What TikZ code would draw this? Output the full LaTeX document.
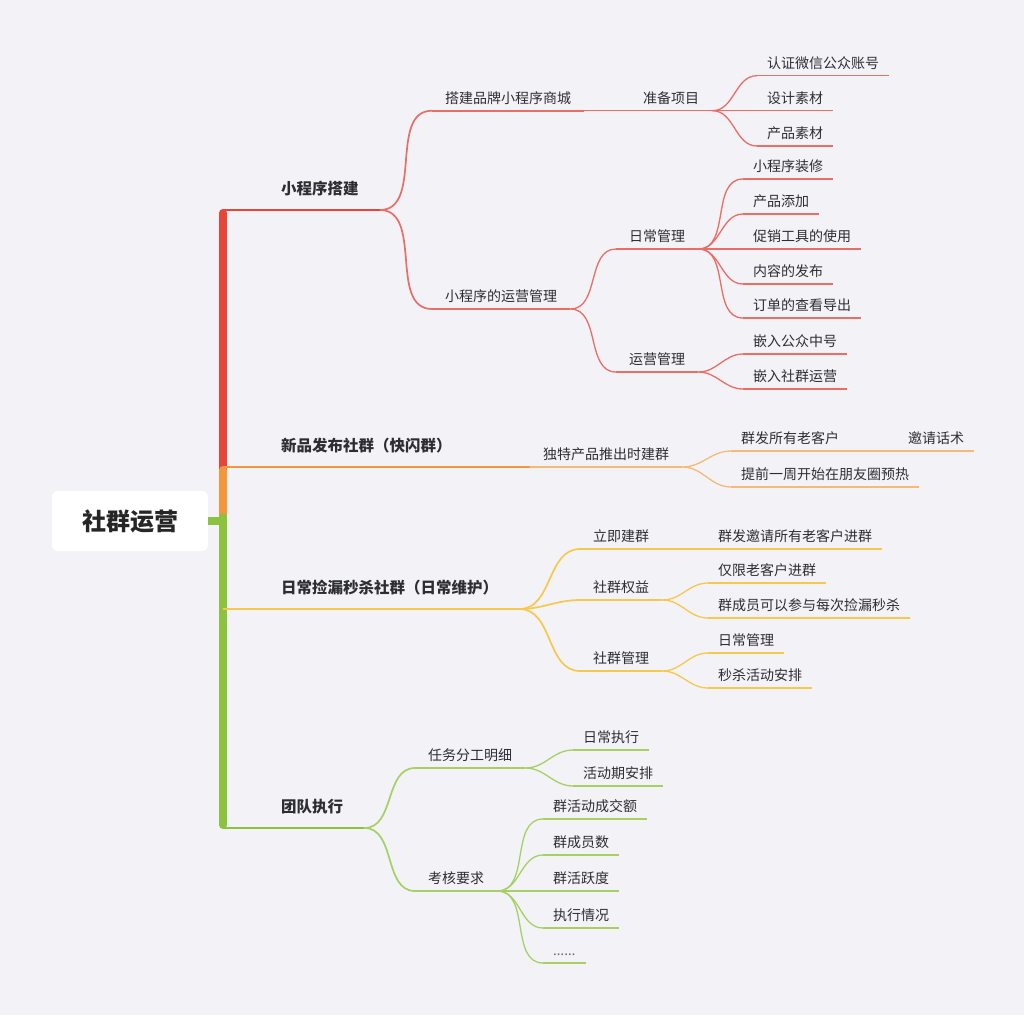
\documentclass[tikz,border=0pt]{standalone}
\usepackage{fontspec}
\newfontfamily\cjk{Noto Sans CJK SC}
\newfontfamily\latin{Noto Sans}
\usetikzlibrary{positioning}
\definecolor{bgcol}{RGB}{243,243,247}
\definecolor{txtcol}{RGB}{45,45,52}
\definecolor{redtrunk}{RGB}{232,68,56}
\definecolor{redline}{RGB}{232,110,102}
\definecolor{orangetrunk}{RGB}{246,150,58}
\definecolor{orangeline}{RGB}{246,186,116}
\definecolor{yellowline}{RGB}{246,200,76}
\definecolor{greentrunk}{RGB}{140,195,62}
\definecolor{greenline}{RGB}{166,208,100}

\begin{document}
\begin{tikzpicture}[x=1pt,y=-1pt]
	\tikzset{
		leaf/.style={anchor=south west, inner xsep=10pt, inner ysep=5.5pt,
			text height=12pt, text depth=2pt, text=txtcol,
			font=\cjk\fontsize{14pt}{16pt}\selectfont},
		sub/.style={leaf, inner xsep=13pt},
		main/.style={leaf, inner xsep=21pt, inner ysep=13pt, text height=13pt,
			font=\cjk\bfseries\fontsize{15.5pt}{18pt}\selectfont},
		root/.style={fill=white, rounded corners=6pt, minimum width=156pt,
			minimum height=60pt, text=black!85,
			font=\cjk\bfseries\fontsize{24pt}{28pt}\selectfont},
		trunk/.style={line width=8pt},
		lineA/.style={line width=2.6pt},
		lineB/.style={line width=1.7pt},
		lineC/.style={line width=1.3pt}
	}
	
	% Page and background
	\fill[bgcol] (0,0) rectangle (1024,1015);
	\useasboundingbox (0,0) rectangle (1024,1015);
	
	% Central topic
	\node[root] (root) at (130,521) {社群运营};
	\coordinate (hub) at (223,521);
	
	% Main topics
	\node[main] (b1) at (260,210) {小程序搭建};
	\node[main] (b2) at (260,467) {新品发布社群（快闪群）};
	\node[main] (b3) at (260,609) {日常捡漏秒杀社群（日常维护）};
	\node[main] (b4) at (260,828) {团队执行};
	
	% Red branch
	\node[sub] (c1) at (432,110.7) {搭建品牌小程序商城};
	\node[sub] (c2) at (432,309) {小程序的运营管理};
	\node[sub] (d1) at (630,110.7) {准备项目};
	\node[sub] (d2) at (616,249) {日常管理};
	\node[sub] (d3) at (616,372) {运营管理};
	\node[leaf] (e1) at (757,75.7) {认证微信公众账号};
	\node[leaf] (e2) at (757,110.7) {设计素材};
	\node[leaf] (e3) at (757,146) {产品素材};
	\node[leaf] (e4) at (743,179) {小程序装修};
	\node[leaf] (e5) at (743,214) {产品添加};
	\node[leaf] (e6) at (743,249) {促销工具的使用};
	\node[leaf] (e7) at (743,284) {内容的发布};
	\node[leaf] (e8) at (743,318) {订单的查看导出};
	\node[leaf] (e9) at (743,354) {嵌入公众中号};
	\node[leaf] (e10) at (743,389) {嵌入社群运营};
	
	% Orange branch
	\node[sub] (c3) at (530,467) {独特产品推出时建群};
	\node[leaf] (f1) at (731,451) {群发所有老客户};
	\node[leaf] (f2) at (898,451) {邀请话术};
	\node[leaf] (f3) at (731,487) {提前一周开始在朋友圈预热};
	
	% Yellow branch
	\node[sub] (c4) at (580,549) {立即建群};
	\node[sub] (c5) at (580,600) {社群权益};
	\node[sub] (c6) at (580,671) {社群管理};
	\node[leaf] (g1) at (708,549) {群发邀请所有老客户进群};
	\node[leaf] (g2) at (708,583) {仅限老客户进群};
	\node[leaf] (g3) at (708,618) {群成员可以参与每次捡漏秒杀};
	\node[leaf] (g4) at (708,653) {日常管理};
	\node[leaf] (g5) at (708,688) {秒杀活动安排};
	
	% Green branch
	\node[sub] (c7) at (415,768) {任务分工明细};
	\node[sub] (c8) at (415,891) {考核要求};
	\node[leaf] (h1) at (573,750) {日常执行};
	\node[leaf] (h2) at (573,786) {活动期安排};
	\node[leaf] (h3) at (543,819) {群活动成交额};
	\node[leaf] (h4) at (543,855) {群成员数};
	\node[leaf] (h5) at (543,891) {群活跃度};
	\node[leaf] (h6) at (543,928) {执行情况};
	\node[leaf, text=txtcol!70] (h7) at (543,963) {\latin ……};
	
	% Trunk from the central topic
	\draw[trunk, redtrunk, line cap=round] (hub) -- ([yshift=-3pt]hub |- b1.south west);
	\draw[trunk, orangetrunk, line cap=round] (hub) -- ([yshift=-3pt]hub |- b2.south west);
	\draw[trunk, greentrunk] (root.east) -- (hub);
	\draw[trunk, greentrunk, line cap=round] ([yshift=4pt]hub) -- ([yshift=3pt]hub |- b4.south west);
	
	% Main topic lines
	\foreach \n/\col in {b1/redtrunk, b2/orangetrunk, b3/yellowline, b4/greentrunk}
	{
		\draw[lineA, \col] (hub |- \n.south east) -- (\n.south east);
	}
	
	% Underlines
	\foreach \n/\col in {c1/redline, c2/redline, c3/orangeline, c4/yellowline, c5/yellowline, c6/yellowline, c7/greenline, c8/greenline}
	{
		\draw[lineB, \col] (\n.south west) -- (\n.south east);
	}
	\foreach \n/\col in {d1/redline, d2/redline, d3/redline, e1/redline, e2/redline, e3/redline, e4/redline, e5/redline, e6/redline, e7/redline, e8/redline, e9/redline, e10/redline, f1/orangeline, f2/orangeline, f3/orangeline, g1/yellowline, g2/yellowline, g3/yellowline, g4/yellowline, g5/yellowline, h1/greenline, h2/greenline, h3/greenline, h4/greenline, h5/greenline, h6/greenline, h7/greenline}
	{
		\draw[lineC, \col] (\n.south west) -- (\n.south east);
	}
	
	% Connectors to the sub topics
	\foreach \a/\b/\col in {b1/c1/redline, b1/c2/redline, b2/c3/orangetrunk, b3/c4/yellowline, b3/c5/yellowline, b3/c6/yellowline, b4/c7/greenline, b4/c8/greenline}
	{
		\draw[lineB, \col] (\a.south east) to[out=0,in=180] (\b.south west);
	}
	
	% Connectors to the details
	\foreach \a/\b/\col in {c1/d1/redline, c2/d2/redline, c2/d3/redline, d1/e1/redline, d1/e2/redline, d1/e3/redline, d2/e4/redline, d2/e5/redline, d2/e6/redline, d2/e7/redline, d2/e8/redline, d3/e9/redline, d3/e10/redline, c3/f1/orangeline, f1/f2/orangeline, c3/f3/orangeline, c4/g1/yellowline, c5/g2/yellowline, c5/g3/yellowline, c6/g4/yellowline, c6/g5/yellowline, c7/h1/greenline, c7/h2/greenline, c8/h3/greenline, c8/h4/greenline, c8/h5/greenline, c8/h6/greenline, c8/h7/greenline}
	{
		\draw[lineC, \col] (\a.south east) to[out=0,in=180] (\b.south west);
	}
	
\end{tikzpicture}
\end{document}
